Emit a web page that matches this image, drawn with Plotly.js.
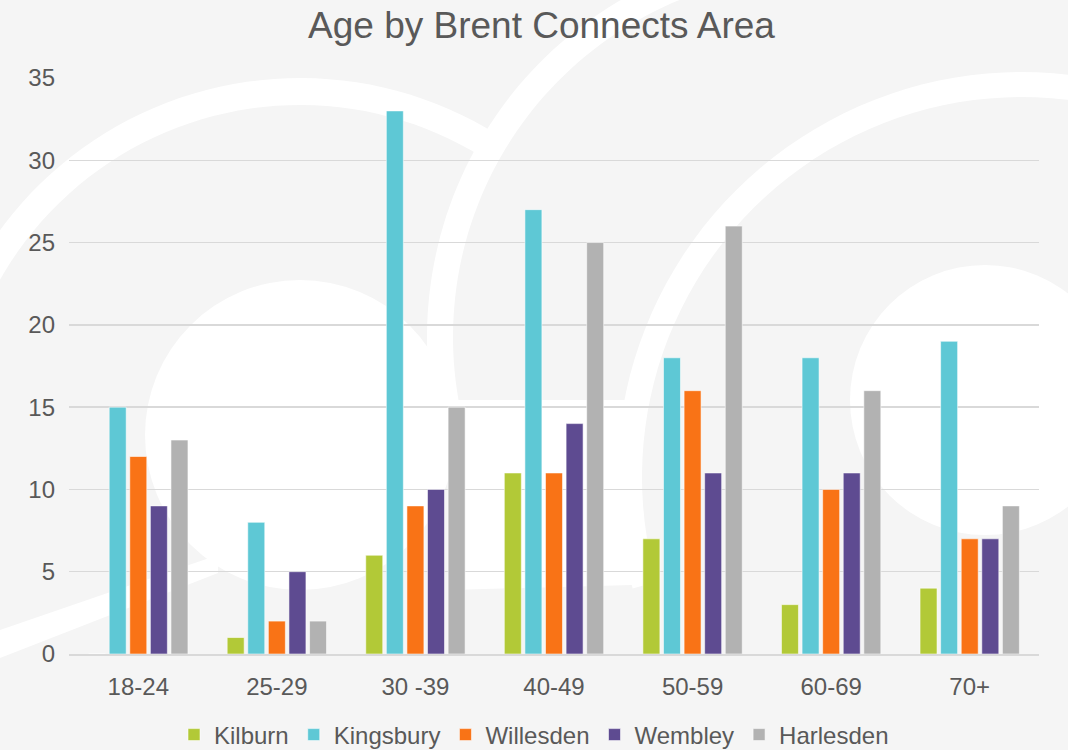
<!DOCTYPE html>
<html>
<head>
<meta charset="utf-8">
<script src="https://cdn.plot.ly/plotly-3.0.1.min.js"></script>
<style>
html,body{margin:0;padding:0;background:#f5f5f5;}
#chart{width:1068px;height:750px;}
</style>
</head>
<body>
<div id="chart"></div>
<script>
// ---- data ----
var categories = ['18-24', '25-29', '30 -39', '40-49', '50-59', '60-69', '70+'];
var seriesNames = ['Kilburn', 'Kingsbury', 'Willesden', 'Wembley', 'Harlesden'];
var kilburn   = [0, 1, 6, 11, 7, 3, 4];
var kingsbury = [15, 8, 33, 27, 18, 18, 19];
var willesden = [12, 2, 9, 11, 16, 10, 7];
var wembley   = [9, 5, 10, 14, 11, 11, 7];
var harlesden = [13, 2, 15, 25, 26, 16, 9];
var yTicks = [0, 5, 10, 15, 20, 25, 30, 35];

var seriesValues = [kilburn, kingsbury, willesden, wembley, harlesden];
var colors = ['#b2c937', '#5ec8d5', '#f97316', '#5e4b91', '#b2b2b2'];

// ---- plot geometry (pixels) ----
var W = 1068, H = 750;
var L = 69, R = 1039, T = 78, B = 654;
function px(x, y) { return [(x - L) / (R - L), (B - y) / (B - T)]; }
function ringPath(cx, cy, r1, r2, a1, a2) {
  var pts = [], n = 60, i, a;
  for (i = 0; i <= n; i++) {
    a = (a1 + (a2 - a1) * i / n) * Math.PI / 180;
    pts.push(px(cx + r2 * Math.cos(a), cy - r2 * Math.sin(a)));
  }
  for (i = n; i >= 0; i--) {
    a = (a1 + (a2 - a1) * i / n) * Math.PI / 180;
    pts.push(px(cx + r1 * Math.cos(a), cy - r1 * Math.sin(a)));
  }
  return 'M' + pts.map(function (q) { return q[0].toFixed(4) + ',' + q[1].toFixed(4); }).join('L') + 'Z';
}
function polyPath(list) {
  return 'M' + list.map(function (q) { var p = px(q[0], q[1]); return p[0].toFixed(4) + ',' + p[1].toFixed(4); }).join('L') + 'Z';
}
function disk(cx, cy, r) {
  var a = px(cx - r, cy + r), b = px(cx + r, cy - r);
  return {type: 'circle', xref: 'paper', yref: 'paper', x0: a[0], y0: a[1], x1: b[0], y1: b[1],
          fillcolor: '#ffffff', line: {width: 0}, layer: 'below'};
}
function pathShape(d) {
  return {type: 'path', xref: 'paper', yref: 'paper', path: d, fillcolor: '#ffffff', line: {width: 0}, layer: 'below'};
}

var shapes = [
  pathShape(ringPath(300, 450, 345, 372, 58, 185)),
  pathShape(ringPath(817, 337, 364, 390, 112, 200)),
  pathShape(ringPath(1022, 477, 380, 405, 55, 196)),
  disk(300, 435, 155),
  disk(985, 400, 135),
  pathShape(polyPath([[450, 400], [638, 400], [632, 585], [450, 590]])),
  pathShape(polyPath([[0, 630], [218, 555], [218, 573], [0, 658]]))
];

var traces = seriesNames.map(function (name, i) {
  return {
    type: 'bar',
    name: name,
    x: categories,
    y: seriesValues[i],
    marker: {color: colors[i], line: {color: 'rgba(255,255,255,0.55)', width: 1}},
    hoverinfo: 'x+y+name'
  };
});

var font = 'Liberation Sans, Arial, sans-serif';
var layout = {
  width: W, height: H,
  paper_bgcolor: '#f5f5f5',
  plot_bgcolor: 'rgba(0,0,0,0)',
  margin: {l: L, r: W - R, t: T, b: H - B, pad: 0, autoexpand: false},
  barmode: 'group',
  bargap: 0.257,
  bargroupgap: 0.175,
  title: {
    text: 'Age by Brent Connects Area',
    font: {family: font, size: 37, color: '#595959'},
    x: 0.507, xanchor: 'center', y: 0.966, yanchor: 'middle', xref: 'container', yref: 'container'
  },
  xaxis: {
    type: 'category',
    showgrid: false,
    showline: true, linecolor: '#d9d9d9', linewidth: 2,
    ticks: '',
    tickfont: {family: font, size: 24, color: '#595959'},
    ticklabelstandoff: 10,
    zeroline: false,
    automargin: false
  },
  yaxis: {
    range: [0, 35],
    tickvals: yTicks,
    ticktext: yTicks.map(String),
    showgrid: true, gridcolor: '#d9d9d9', gridwidth: 1.5,
    zeroline: false,
    showline: false,
    ticks: '',
    tickfont: {family: font, size: 24, color: '#595959'},
    ticklabelstandoff: 13,
    automargin: false
  },
  legend: {
    orientation: 'h',
    x: 0.5, xanchor: 'center', xref: 'container',
    y: 0.02, yanchor: 'middle', yref: 'container',
    font: {family: font, size: 24, color: '#595959'},
    bgcolor: 'rgba(0,0,0,0)',
    itemwidth: 30,
    traceorder: 'normal'
  },
  shapes: shapes,
  showlegend: true
};

Plotly.newPlot('chart', traces, layout, {displayModeBar: false, staticPlot: true});
</script>
</body>
</html>
